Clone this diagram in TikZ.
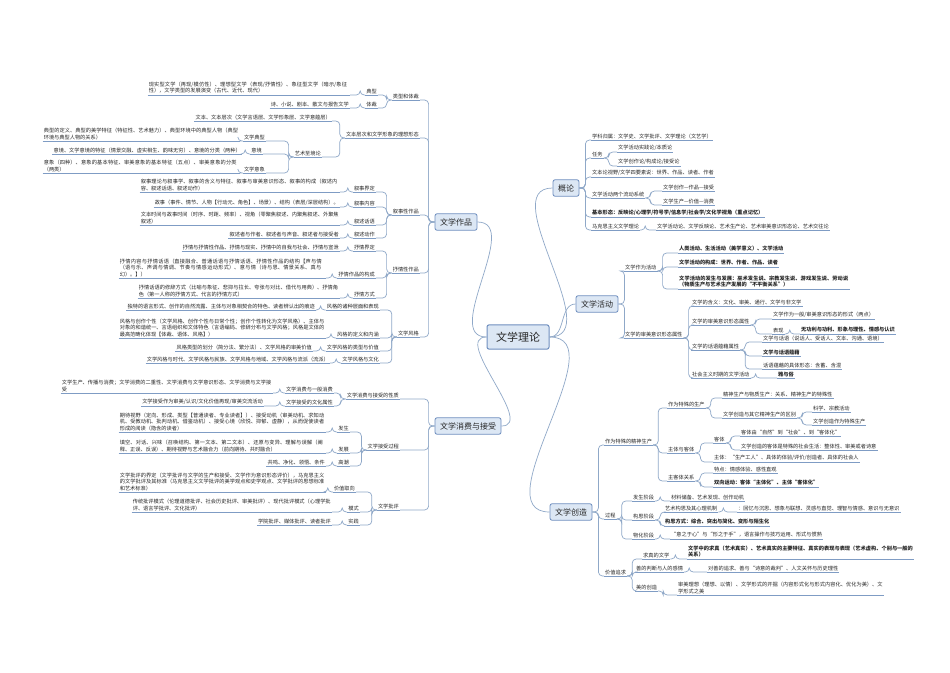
\documentclass[tikz,border=0pt]{standalone}
\usepackage{fontspec}
\setmainfont{Noto Sans CJK SC}
\XeTeXlinebreaklocale "zh"
\XeTeXlinebreakskip=0pt plus 1pt
\definecolor{ln}{HTML}{8FA8C8}
\definecolor{ul}{HTML}{7F9CC4}
\definecolor{bx}{HTML}{DCE7F4}
\definecolor{bd}{HTML}{6F8FBF}
\tikzset{
 t/.style={font=\fontsize{5.2}{6.4}\selectfont, inner xsep=1pt, inner ysep=1.3pt, text=black!85, align=left},
 ul/.style={draw=ul, line width=1pt},
 cn/.style={draw=ln, line width=.7pt, rounded corners=4pt},
 mb/.style={draw=bd, fill=bx, rounded corners=2pt, font=\fontsize{8}{9.5}\selectfont, inner xsep=5pt, inner ysep=4.5pt, line width=.8pt, text=black!85},
 cb/.style={mb, font=\fontsize{11}{13}\selectfont, inner xsep=9pt, inner ysep=7pt, line width=1pt}
}
\newcommand\Ln[4]{\node[t,anchor=south east,#3] (#1) at (#2) {#4}; \draw[ul] (#1.south west)--(#1.south east);}
\newcommand\Rn[4]{\node[t,anchor=south west,#3] (#1) at (#2) {#4}; \draw[ul] (#1.south west)--(#1.south east);}
\newcommand\Cl[2]{\draw[cn] (#1.south west) -- ++(-5,0) |- (#2.south east);}
\newcommand\Cr[2]{\draw[cn] (#1.south east) -- ++(5,0) |- (#2.south west);}
\newcommand\Bl[2]{\draw[cn] (#1.west) -- ++(-6,0) |- (#2.south east);}
\newcommand\Br[2]{\draw[cn] (#1.east) -- ++(6,0) |- (#2.south west);}
\begin{document}
\begin{tikzpicture}[x=1pt,y=-1pt]
\useasboundingbox[fill=white] (0,0) rectangle (950,672);
% central and main
\node[cb] (C) at (518,337) {文学理论};
\node[mb] (W) at (456,222) {文学作品};
\node[mb] (X) at (468,426) {文学消费与接受};
\node[mb] (G) at (566,188) {概论};
\node[mb] (A) at (597,304) {文学活动};
\node[mb] (K) at (571,512) {文学创造};
\draw[cn] (C.west) to[out=180,in=0] (W.east);
\draw[cn] (C.west) to[out=180,in=0] (X.east);
\draw[cn] (C.east) to[out=0,in=180] (G.west);
\draw[cn] (C.east) to[out=0,in=180] (A.west);
\draw[cn] (C.east) to[out=0,in=180] (K.west);
% ===== 文学作品
\Ln{w1}{420,100}{}{类型和体裁}
\Ln{w2}{420,138}{}{文本层次和文学形象的理想形态}
\Ln{w3}{420,215}{}{叙事性作品}
\Ln{w4}{420,273}{}{抒情性作品}
\Ln{w5}{420,337}{}{文学风格}
\foreach \c in {w1,w2,w3,w4,w5}{\Bl{W}{\c}}
\Ln{w11}{378,95}{}{典型}
\Ln{w11t}{350,95}{text width=200pt}{现实型文学（再现/模仿性）、理想型文学（表现/抒情性）、象征型文学（暗示/象征性），文学类型的发展演变（古代、近代、现代）}
\Ln{w12}{378,108}{}{体裁}
\Ln{w12t}{350,108}{}{诗、小说、剧本、散文与报告文学}
\Cl{w1}{w11}\Cl{w1}{w12}\Cl{w11}{w11t}\Cl{w12}{w12t}
\Ln{w21}{332,121}{}{文本、文本层次（文学言语层、文学形象层、文学意蕴层）}
\Ln{w22}{322,157}{}{艺术至境论}
\Cl{w2}{w21}\Cl{w2}{w22}
\Ln{w221}{266,141}{}{文学典型}
\Ln{w222}{263,154}{}{意境}
\Ln{w223}{266,173}{}{文学意象}
\Cl{w22}{w221}\Cl{w22}{w222}\Cl{w22}{w223}
\Ln{w221t}{240,141}{text width=195pt}{典型的定义、典型的美学特征（特征性、艺术魅力）、典型环境中的典型人物（典型环境与典型人物的关系）}
\Ln{w222t}{242,154}{}{意境、文学意境的特征（情景交融、虚实相生、韵味无穷）、意境的分类（两种）}
\Ln{w223t}{240,173}{text width=195pt}{意象（四种）、意象的基本特征、审美意象的基本特征（五点）、审美意象的分类（两类）}
\Cl{w221}{w221t}\Cl{w222}{w222t}\Cl{w223}{w223t}
\Ln{w31}{376,192}{}{叙事界定}
\Ln{w32}{376,207}{}{叙事内容}
\Ln{w33}{376,225}{}{叙述话语}
\Ln{w34}{376,238}{}{叙述动作}
\Ln{w31t}{340,192}{text width=198pt}{叙事理论与叙事学、叙事的含义与特征、叙事与审美意识形态、叙事的构成（叙述内容、叙述话语、叙述动作）}
\Ln{w32t}{340,207}{}{故事（事件、情节、人物【行动元、角色】、场景）、结构（表层/深层结构）。}
\Ln{w33t}{340,225}{text width=198pt}{文本时间与故事时间（时序、时距、频率）、视角（零聚焦叙述、内聚焦叙述、外聚焦叙述）}
\Ln{w34t}{340,238}{}{叙述者与作者、叙述者与声音、叙述者与接受者}
\foreach \c in {w31,w32,w33,w34}{\Cl{w3}{\c}\Cl{\c}{\c t}}
\Ln{w41}{376,251}{}{抒情界定}
\Ln{w42}{376,278}{}{抒情作品的构成}
\Ln{w43}{376,298}{}{抒情方式}
\Ln{w41t}{340,251}{}{抒情与抒情性作品、抒情与现实、抒情中的自我与社会、抒情与宣泄}
\Ln{w42t}{326,278}{text width=205pt}{抒情内容与抒情话语（直接融合、普通话语与抒情话语、抒情性作品的结构【声与情（语与乐、声调与情调、节奏与情感运动形式）、意与情（诗与思、情景关系、真与幻）。】）}
\Ln{w43t}{340,298}{text width=200pt}{抒情话语的修辞方式（比喻与象征、悲抑与拉长、夸张与对比、借代与用典）、抒情角色（第一人称的抒情方式、代言的抒情方式）}
\foreach \c in {w41,w42,w43}{\Cl{w4}{\c}\Cl{\c}{\c t}}
\Ln{w51}{380,310}{}{风格的诸种层面和表现}
\Ln{w52}{380,338}{}{风格的定义和内涵}
\Ln{w53}{380,351}{}{文学风格的类型与价值}
\Ln{w54}{380,363}{}{文学风格与文化}
\Ln{w51t}{316,310}{}{独特的语言形式、创作的自然流露、主体与对象相契合的特色、读者辨认出的痕迹}
\Ln{w52t}{326,338}{text width=205pt}{风格与创作个性（文学风格、创作个性与日常个性；创作个性转化为文学风格）、主体与对象的和谐统一、言语组织和文体特色（言语编码、修辞分布与文学风格；风格是文体的最高范畴化体现【体裁、语体、风格】）}
\Ln{w53t}{313,351}{}{风格类型的划分（简分法、繁分法）、文学风格的审美价值}
\Ln{w54t}{330,363}{}{文学风格与时代、文学风格与民族、文学风格与地域、文学风格与流派（流派）}
\foreach \c in {w51,w52,w53,w54}{\Cl{w5}{\c}\Cl{\c}{\c t}}
% ===== 文学消费与接受
\Ln{x1}{400,399}{}{文学消费与接受的性质}
\Ln{x2}{400,450}{}{文学接受过程}
\Ln{x3}{400,510}{}{文学批评}
\foreach \c in {x1,x2,x3}{\Bl{X}{\c}}
\Ln{x11}{334,393}{}{文学消费与一般消费}
\Ln{x12}{334,406}{}{文学接受的文化属性}
\Ln{x11t}{273,393}{text width=210pt}{文学生产、传播与消费；文学消费的二重性、文学消费与文学意识形态、文学消费与文学接受}
\Ln{x12t}{264,406}{}{文学接受作为审美/认识/文化价值再现/审美交流活动}
\foreach \c in {x11,x12}{\Cl{x1}{\c}\Cl{\c}{\c t}}
\Ln{x21}{350,432}{}{发生}
\Ln{x22}{350,453}{}{发展}
\Ln{x23}{350,466}{}{高潮}
\Ln{x21t}{326,432}{text width=205pt}{期待视野（定向、形成、类型【普通读者、专业读者】）、接受动机（审美动机、求知动机、受教动机、批判动机、借鉴动机）、接受心境（欣悦、抑郁、虚静），从而促使读者形成的阅读（隐含的读者）}
\Ln{x22t}{326,453}{text width=205pt}{填空、对话、兴味（召唤结构、第一文本、第二文本）、还原与变异、理解与误解（阐释、正误、反误）、期待视野与艺术融合力（前向期待、共时融合）}
\Ln{x23t}{326,466}{}{共鸣、净化、领悟、条件}
\foreach \c in {x21,x22,x23}{\Cl{x2}{\c}\Cl{\c}{\c t}}
\Ln{x31}{356,492}{}{价值取向}
\Ln{x32}{360,512}{}{模式}
\Ln{x33}{360,525}{}{实践}
\Ln{x31t}{326,492}{text width=205pt}{文学批评的界定（文学批评与文学的生产和接受、文学作为意识形态评价），马克思主义的文学批评及其标准（马克思主义文学批评的美学观点和史学观点、文学批评的思想标准和艺术标准）}
\Ln{x32t}{332,512}{text width=198pt}{传统批评模式（伦理道德批评、社会历史批评、审美批评）、现代批评模式（心理学批评、语言学批评、文化批评）}
\Ln{x33t}{332,525}{}{学院批评、媒体批评、读者批评}
\foreach \c in {x31,x32,x33}{\Cl{x3}{\c}\Cl{\c}{\c t}}
% ===== 概论
\Rn{g1}{591,140}{}{学科归属：文学史、文学批评、文学理论（文艺学）}
\Rn{g2}{591,158}{}{任务}
\Rn{g3}{591,177}{}{文本论视野/文学四要素说：世界、作品、读者、作者}
\Rn{g4}{591,198}{}{文学活动两个流动系统}
\Rn{g5}{591,217}{font=\fontsize{5.2}{6.4}\selectfont\bfseries}{基本形态：反映论/心理学/符号学/信息学/社会学/文化学视角（重点记忆）}
\Rn{g6}{591,230}{}{马克思主义文学理论}
\foreach \c in {g1,g2,g3,g4,g5,g6}{\Br{G}{\c}}
\Rn{g21}{617,152}{}{文学活动实践论/本质论}
\Rn{g22}{617,166}{}{文学创作论/构成论/接受论}
\Cr{g2}{g21}\Cr{g2}{g22}
\Rn{g41}{662,191}{}{文学创作—作品—接受}
\Rn{g42}{662,205}{}{文学生产—价值—消费}
\Cr{g4}{g41}\Cr{g4}{g42}
\Rn{g61}{656,230}{}{文学活动论、文学反映论、艺术生产论、艺术审美意识形态论、艺术交往论}
\Cr{g6}{g61}
% ===== 文学活动
\Rn{a1}{624,271}{}{文学作为活动}
\Rn{a2}{624,338}{}{文学的审美意识形态属性}
\Br{A}{a1}\Br{A}{a2}
\Rn{a11}{678,253}{font=\fontsize{5.2}{6.4}\selectfont\bfseries}{人类活动、生活活动（美学意义）、文学活动}
\Rn{a12}{678,267}{font=\fontsize{5.2}{6.4}\selectfont\bfseries}{文学活动的构成：世界、作者、作品、读者}
\Rn{a13}{678,289}{font=\fontsize{5.2}{6.4}\selectfont\bfseries,text width=170pt}{文学活动的发生与发展：巫术发生说、宗教发生说、游戏发生说、劳动说（物质生产与艺术生产发展的“不平衡关系”）}
\foreach \c in {a11,a12,a13}{\Cr{a1}{\c}}
\Rn{a21}{691,306}{}{文学的含义：文化、审美、通行、文学与非文学}
\Rn{a22}{691,325}{}{文学的审美意识形态属性}
\Rn{a23}{691,350}{}{文学的话语蕴藉属性}
\Rn{a24}{691,378}{}{社会主义时期的文学活动}
\foreach \c in {a21,a22,a23,a24}{\Cr{a2}{\c}}
\Rn{a221}{772,319}{}{文学作为一般/审美意识形态的形式（两点）}
\Rn{a222}{772,334}{}{表现}
\Rn{a2221}{800,334}{font=\fontsize{5.2}{6.4}\selectfont\bfseries}{无功利与功利、形象与理性、情感与认识}
\Cr{a22}{a221}\Cr{a22}{a222}\Cr{a222}{a2221}
\Rn{a231}{762,342}{}{文学与话语（说话人、受话人、文本、沟通、语境）}
\Rn{a232}{762,356}{font=\fontsize{5.2}{6.4}\selectfont\bfseries}{文学与话语蕴藉}
\Rn{a233}{762,369}{}{话语蕴藉的具体形态：含蓄、含混}
\foreach \c in {a231,a232,a233}{\Cr{a23}{\c}}
\Rn{a241}{777,378}{font=\fontsize{5.2}{6.4}\selectfont\bfseries}{雅与俗}
\Cr{a24}{a241}
% ===== 文学创造
\Rn{k1}{604,445}{}{作为特殊的精神生产}
\Rn{k2}{604,519}{}{过程}
\Rn{k3}{604,576}{}{价值追求}
\foreach \c in {k1,k2,k3}{\Br{K}{\c}}
\Rn{k11}{667,408}{}{作为特殊的生产}
\Rn{k12}{667,453}{}{主体与客体}
\Rn{k13}{667,481}{}{主客体关系}
\foreach \c in {k11,k12,k13}{\Cr{k1}{\c}}
\Rn{k111}{722,398}{}{精神生产与物质生产：关系、精神生产的特殊性}
\Rn{k112}{722,418}{}{文学创造与其它精神生产的区别}
\Cr{k11}{k111}\Cr{k11}{k112}
\Rn{k1121}{812,412}{}{科学、宗教活动}
\Rn{k1122}{812,425}{}{文学创造作为特殊生产}
\Cr{k112}{k1121}\Cr{k112}{k1122}
\Rn{k121}{713,443}{}{客体}
\Rn{k122}{713,462}{}{主体：“生产工人”、具体的体验/评价/创造者、具体的社会人}
\Cr{k12}{k121}\Cr{k12}{k122}
\Rn{k1211}{740,436}{}{客体由“自然”到“社会”、到“客体化”}
\Rn{k1212}{740,450}{}{文学创造的客体是特殊的社会生活：整体性、审美或者诗意}
\Cr{k121}{k1211}\Cr{k121}{k1212}
\Rn{k131}{713,473}{}{特点：情感体验、感性直观}
\Rn{k132}{713,487}{font=\fontsize{5.2}{6.4}\selectfont\bfseries}{双向运动：客体“主体化”、主体“客体化”}
\Cr{k13}{k131}\Cr{k13}{k132}
\Rn{k21}{632,501}{}{发生阶段}
\Rn{k22}{632,520}{}{构思阶段}
\Rn{k23}{632,539}{}{物化阶段}
\foreach \c in {k21,k22,k23}{\Cr{k2}{\c}}
\Rn{k211}{670,501}{}{材料储备、艺术发现、创作动机}
\Cr{k21}{k211}
\Rn{k221}{664,512}{}{艺术构思及其心理机制}
\Rn{k222}{664,526}{font=\fontsize{5.2}{6.4}\selectfont\bfseries}{构思方式：综合、突出与简化、变形与陌生化}
\Cr{k22}{k221}\Cr{k22}{k222}
\Rn{k2211}{737,512}{}{：回忆与沉思、想象与联想、灵感与直觉、理智与情感、意识与无意识}
\Cr{k221}{k2211}
\Rn{k231}{670,539}{}{“意之于心”与“形之于手”，语言操作与技巧运用、形式与惯熟}
\Cr{k23}{k231}
\Rn{k31}{642,559}{}{求真的文学}
\Rn{k32}{635,572}{}{善的判断与人的感情}
\Rn{k33}{635,591}{}{美的创造}
\foreach \c in {k31,k32,k33}{\Cr{k3}{\c}}
\Rn{k311}{687,559}{font=\fontsize{5.2}{6.4}\selectfont\bfseries,text width=225pt}{文学中的求真（艺术真实）、艺术真实的主要特征、真实的表现与表现（艺术虚构、个别与一般的关系）}
\Rn{k321}{707,572}{}{对善的追求、善与“诗意的裁判”、人文关怀与历史理性}
\Rn{k331}{677,595}{text width=205pt}{审美理想（理想、以情）、文学形式的开掘（内容形式化与形式内容化、优化为美）、文学形式之美}
\Cr{k31}{k311}\Cr{k32}{k321}\Cr{k33}{k331}
\end{tikzpicture}
\end{document}
